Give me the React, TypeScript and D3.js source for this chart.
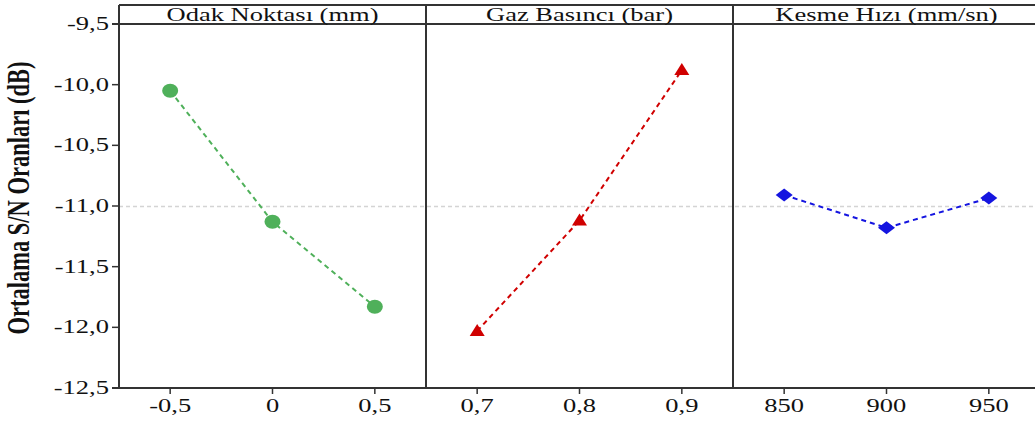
import React from "react";
import * as d3 from "d3";

const panelTitles = ["Odak Noktası (mm)", "Gaz Basıncı (bar)", "Kesme Hızı (mm/sn)"];
const levels1 = [-0.5, 0, 0.5];
const levels2 = [0.7, 0.8, 0.9];
const levels3 = [850, 900, 950];
const tickLabels1 = ["-0,5", "0", "0,5"];
const tickLabels2 = ["0,7", "0,8", "0,9"];
const tickLabels3 = ["850", "900", "950"];
const values1 = [-10.05, -11.13, -11.83];
const values2 = [-12.03, -11.12, -9.88];
const values3 = [-10.91, -11.18, -10.935];
const yTicks = [-12.5, -12.0, -11.5, -11.0, -10.5, -10.0, -9.5];
const yTickLabels = ["-12,5", "-12,0", "-11,5", "-11,0", "-10,5", "-10,0", "-9,5"];
const yTitle = "Ortalama S/N Oranları (dB)";

const W = 1035, H = 421;
const left = 119, panelW = 307, top = 5, headerY = 24, bottom = 388;
const SX = 1.36;
const FONT = "'Liberation Serif', 'Times New Roman', serif";

const panels = [
  { title: panelTitles[0], levels: levels1, labels: tickLabels1, values: values1, domain: [-0.75, 0.75], color: "#4fb05a", shape: "circle" },
  { title: panelTitles[1], levels: levels2, labels: tickLabels2, values: values2, domain: [0.65, 0.95], color: "#d00000", shape: "triangle" },
  { title: panelTitles[2], levels: levels3, labels: tickLabels3, values: values3, domain: [825, 975], color: "#1515e0", shape: "diamond" },
];

function StretchText({ x, y, anchor, size, weight, children }: any) {
  return (
    <g transform={`translate(${x},${y}) scale(${SX},1)`}>
      <text x={0} y={0} textAnchor={anchor} fontSize={size} fontWeight={weight || "normal"} fontFamily={FONT} fill="#111">
        {children}
      </text>
    </g>
  );
}

function Marker({ shape, x, y, color }: any) {
  if (shape === "circle") return <ellipse cx={x} cy={y} rx={8} ry={7} fill={color} />;
  if (shape === "triangle") {
    const p = d3.path();
    p.moveTo(x, y - 7);
    p.lineTo(x + 7.5, y + 5);
    p.lineTo(x - 7.5, y + 5);
    p.closePath();
    return <path d={p.toString()} fill={color} />;
  }
  const p = d3.path();
  p.moveTo(x, y - 6.5);
  p.lineTo(x + 8.5, y);
  p.lineTo(x, y + 6.5);
  p.lineTo(x - 8.5, y);
  p.closePath();
  return <path d={p.toString()} fill={color} />;
}

export default function App() {
  const y = d3.scaleLinear().domain([-12.5, -9.5]).range([bottom, headerY]);
  const mean = d3.mean(values1) as number;
  const frame = "#333";
  return (
    <svg width={W} height={H} style={{ position: "absolute", left: 0, top: 0, background: "#fff" }}>
      <line x1={left} x2={W} y1={y(mean)} y2={y(mean)} stroke="#d4d4d4" strokeWidth={1.5} strokeDasharray="4,3" />
      <line x1={left} x2={W} y1={top} y2={top} stroke={frame} strokeWidth={2} />
      <line x1={112} x2={W} y1={headerY} y2={headerY} stroke={frame} strokeWidth={2} />
      <line x1={112} x2={W} y1={bottom} y2={bottom} stroke={frame} strokeWidth={2} />
      {[0, 1, 2].map((i) => (
        <line key={i} x1={left + i * panelW} x2={left + i * panelW} y1={top} y2={bottom} stroke={frame} strokeWidth={2} />
      ))}
      {yTicks.map((t, i) => (
        <g key={t}>
          <line x1={112} x2={left} y1={y(t)} y2={y(t)} stroke={frame} strokeWidth={1.5} />
          <StretchText x={109} y={y(t) + 6} anchor="end" size={19.5}>
            {yTickLabels[i]}
          </StretchText>
        </g>
      ))}
      <g transform={`translate(29,198) scale(${SX},1) rotate(-90)`}>
        <text x={0} y={0} textAnchor="middle" fontSize={22.5} fontWeight="bold" fontFamily={FONT} fill="#111">
          {yTitle}
        </text>
      </g>
      {panels.map((p, i) => {
        const x0 = left + i * panelW;
        const x = d3.scaleLinear().domain(p.domain).range([x0, x0 + panelW]);
        const line = d3
          .line<number>()
          .x((_, j) => x(p.levels[j]))
          .y((v) => y(v));
        return (
          <g key={i}>
            <StretchText x={x0 + panelW / 2} y={21} anchor="middle" size={19.5}>
              {p.title}
            </StretchText>
            {p.levels.map((l, j) => (
              <g key={j}>
                <line x1={x(l)} x2={x(l)} y1={bottom} y2={bottom + 6} stroke={frame} strokeWidth={1.5} />
                <StretchText x={x(l)} y={412} anchor="middle" size={19.5}>
                  {p.labels[j]}
                </StretchText>
              </g>
            ))}
            <path d={line(p.values) as string} fill="none" stroke={p.color} strokeWidth={2} strokeDasharray="5,4" />
            {p.values.map((v, j) => (
              <Marker key={j} shape={p.shape} x={x(p.levels[j])} y={y(v)} color={p.color} />
            ))}
          </g>
        );
      })}
    </svg>
  );
}
